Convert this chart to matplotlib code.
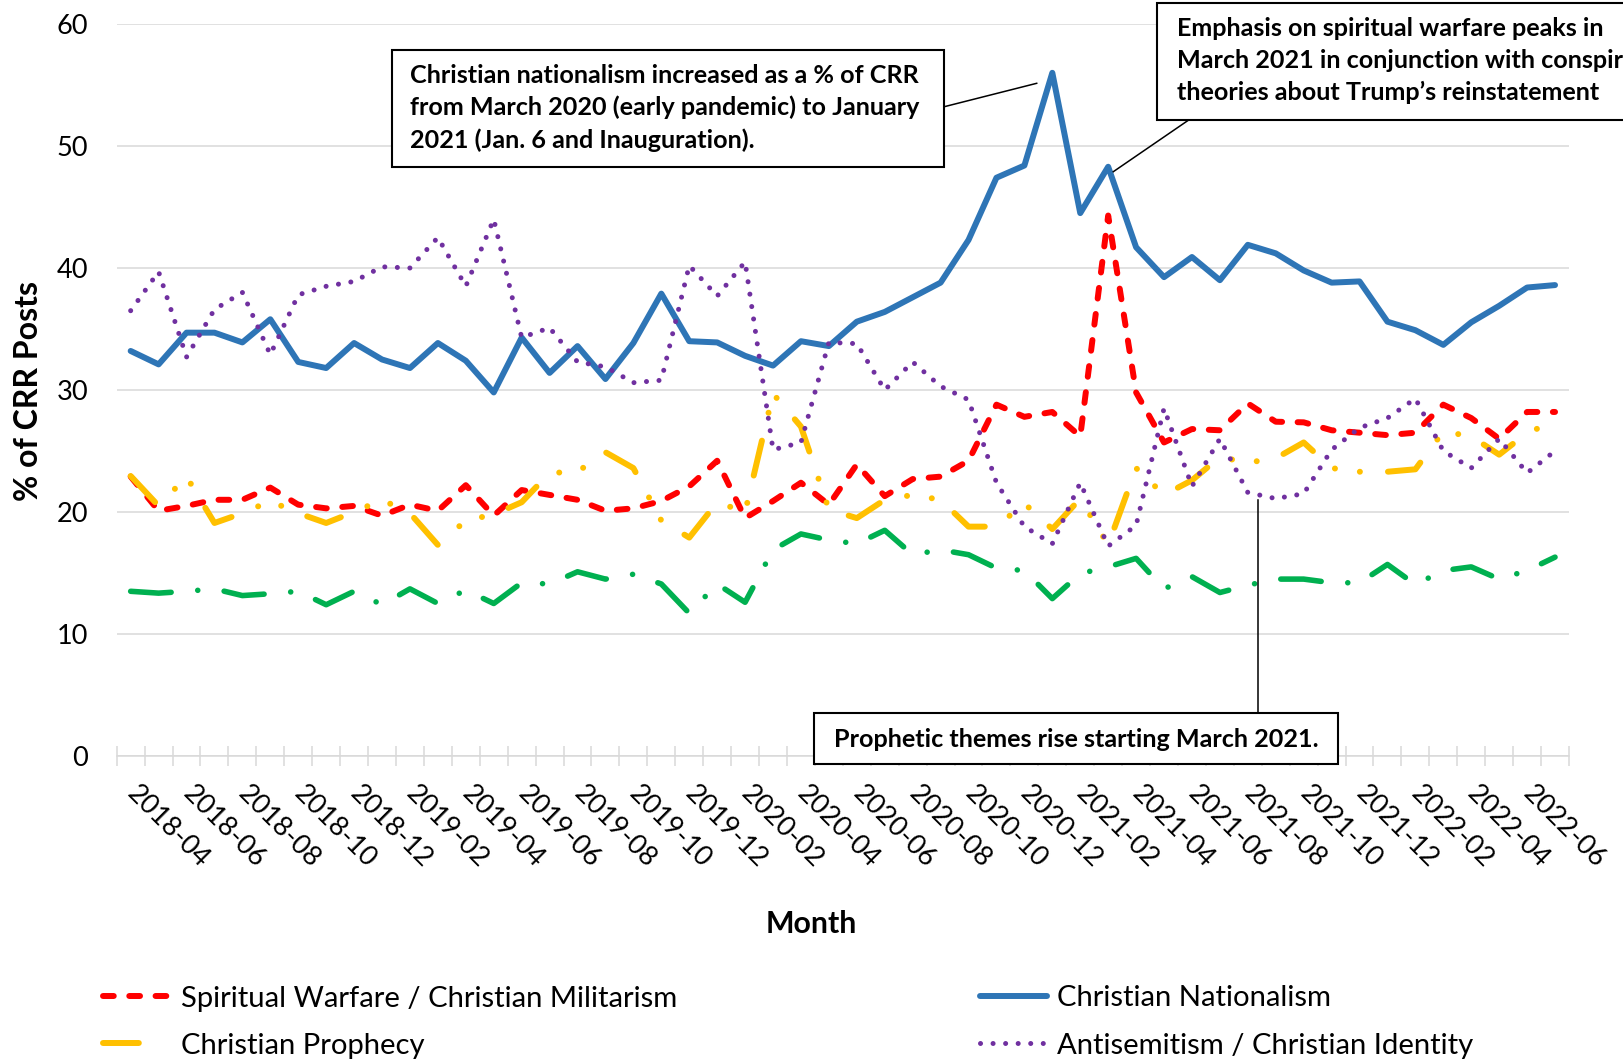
import matplotlib
matplotlib.use("Agg")
import matplotlib.pyplot as plt
import pandas as pd
from matplotlib.lines import Line2D
from matplotlib.patches import Rectangle

plt.rcParams["font.family"] = ["Lato", "DejaVu Sans"]

months = pd.period_range("2018-04", "2022-07", freq="M").strftime("%Y-%m").tolist()

warfare = [22.9, 20.1, 20.5, 21.0, 21.0, 22.0, 20.6, 20.3, 20.5, 19.7,
           20.6, 20.1, 22.2, 19.7, 21.8, 21.4, 21.0, 20.1, 20.3, 20.9,
           22.1, 24.2, 19.5, 20.9, 22.4, 20.6, 23.9, 21.3, 22.7, 22.9,
           24.2, 28.8, 27.8, 28.2, 26.2, 44.3, 29.8, 25.7, 26.8, 26.7,
           28.9, 27.4, 27.35, 26.7, 26.5, 26.3, 26.5, 28.8, 27.7, 26.0,
           28.2, 28.2]
nationalism = [33.2, 32.1, 34.7, 34.7, 33.9, 35.8, 32.3, 31.8, 33.85, 32.5,
               31.8, 33.85, 32.4, 29.8, 34.3, 31.4, 33.6, 30.9, 33.85, 37.9,
               34.0, 33.9, 32.8, 32.0, 34.0, 33.6, 35.6, 36.4, 37.6, 38.8,
               42.3, 47.4, 48.4, 56.0, 44.5, 48.3, 41.7, 39.25, 40.9, 39.0,
               41.9, 41.2, 39.8, 38.8, 38.9, 35.6, 34.9, 33.7, 35.55, 36.9,
               38.4, 38.6]
prophecy = [22.95, 20.5, 22.9, 19.1, 19.9, 20.9, 19.9, 19.1, 20.0, 21.0,
            19.9, 17.3, 19.3, 19.8, 20.8, 23.2, 23.3, 24.9, 23.6, 19.3,
            17.9, 20.8, 20.0, 29.7, 27.0, 20.2, 19.5, 21.0, 21.4, 21.0,
            18.8, 18.8, 20.7, 18.6, 21.1, 17.3, 23.6, 21.4, 22.6, 24.5,
            24.05, 24.4, 25.7, 23.6, 23.3, 23.3, 23.5, 26.6, 26.2, 24.7,
            26.5, 27.4]
antisemitism = [36.5, 39.7, 32.7, 36.6, 38.0, 32.9, 37.8, 38.5, 38.9, 40.1,
                40.0, 42.5, 38.5, 44.0, 34.3, 35.1, 32.3, 31.9, 30.6, 30.8,
                40.2, 37.7, 40.5, 25.1, 25.7, 33.9, 33.8, 30.0, 32.3, 30.3,
                29.2, 22.4, 18.8, 17.4, 22.4, 17.2, 18.9, 28.5, 22.1, 26.0,
                21.6, 21.1, 21.5, 25.1, 26.9, 27.7, 29.3, 25.0, 23.6, 26.0,
                23.2, 25.0]
green_theme = [13.5, 13.35, 13.5, 13.7, 13.15, 13.3, 13.5, 12.4, 13.5, 12.4,
               13.7, 12.5, 13.6, 12.5, 14.2, 14.1, 15.1, 14.5, 14.9, 14.1,
               11.7, 14.1, 12.6, 16.9, 18.2, 17.7, 17.4, 18.5, 16.5, 16.9,
               16.5, 15.4, 15.2, 12.9, 14.95, 15.5, 16.2, 13.7, 14.7, 13.4,
               14.0, 14.5, 14.5, 14.2, 14.2, 15.7, 14.05, 15.2, 15.5, 14.5,
               15.2, 16.3]

W, H = 1624, 1061


def fx(px):
    return px / W


def fy(py):
    return 1 - py / H


def main():
    fig = plt.figure(figsize=(W / 100, H / 100), dpi=100)
    ax = fig.add_axes([fx(116.7), fy(756), 1452.3 / W, 732 / H])
    x = list(range(len(months)))

    l_war, = ax.plot(x, warfare, color="#FF0000", lw=4.3,
                     linestyle=(0, (1.8, 2.6)), dash_capstyle="round",
                     solid_joinstyle="round")
    l_nat, = ax.plot(x, nationalism, color="#2E75B6", lw=4.3,
                     solid_capstyle="round", solid_joinstyle="round")
    ax.plot(x, prophecy, color="#FFC000", lw=4.3,
            linestyle=(0, (6, 4.8, 0.01, 4.2, 0.01, 4.7)),
            dash_capstyle="round")
    l_ant, = ax.plot(x, antisemitism, color="#7030A0", lw=3.6,
                     linestyle=(0, (0.01, 2.5)), dash_capstyle="round")
    ax.plot(x, green_theme, color="#00B050", lw=4.0,
            linestyle=(0, (7.3, 4.8, 0.01, 4.8)), dash_capstyle="round")
    # legend sample for the prophecy line only shows its first long dash
    l_pro = Line2D([], [], color="#FFC000", lw=4.3,
                   linestyle=(0, (6, 20)), dash_capstyle="round")

    ax.set_xlim(-0.5, len(months) - 0.5)
    ax.set_ylim(0, 60)
    ax.set_yticks(range(0, 61, 10))
    ax.grid(axis="y", color="#D9D9D9", lw=1.1)
    ax.set_axisbelow(True)
    for side in ["top", "right", "left"]:
        ax.spines[side].set_visible(False)
    ax.spines["bottom"].set_color("#D9D9D9")
    ax.spines["bottom"].set_linewidth(1.1)

    # labels sit a little right of the category centre, like Excel does
    ax.set_xticks([i + 0.32 for i in x[::2]])
    ax.set_xticklabels(months[::2])
    ax.set_xticks([i - 0.5 for i in range(len(months) + 1)], minor=True)
    ax.tick_params(axis="x", which="major", length=0, pad=18, labelsize=19.5)
    ax.tick_params(axis="x", which="minor", direction="inout", length=14.4,
                   width=1.1, color="#D9D9D9")
    ax.tick_params(axis="y", length=0, pad=20.5, labelsize=19.5)
    plt.setp(ax.get_xticklabels(), rotation=-45, ha="left", va="top",
             rotation_mode="anchor")

    fig.text(fx(29), fy(391.5), "% of CRR Posts", rotation=90, ha="center",
             va="center", fontsize=23, fontweight="bold")
    fig.text(fx(811), fy(924), "Month", ha="center", va="center",
             fontsize=21.8, fontweight="bold")

    legend_kw = dict(loc="upper left", frameon=False, fontsize=21.1,
                     handlelength=2.3, handletextpad=0.34, labelspacing=0.72,
                     borderpad=0, borderaxespad=0)
    fig.legend([l_war, l_pro], ["Spiritual Warfare / Christian Militarism",
                                "Christian Prophecy"],
               bbox_to_anchor=(fx(103.5), fy(985.5)), **legend_kw)
    fig.legend([l_nat, l_ant], ["Christian Nationalism",
                                "Antisemitism / Christian Identity"],
               bbox_to_anchor=(fx(980), fy(985.5)), **legend_kw)

    # callout boxes
    boxes = [(391.7, 50, 944.3, 167.3), (1157.3, 3.3, 1750, 120),
             (814, 713.3, 1338.3, 764.3)]
    for x0, y0, x1, y1 in boxes:
        fig.add_artist(Rectangle((fx(x0), fy(y1)), (x1 - x0) / W, (y1 - y0) / H,
                                 transform=fig.transFigure, facecolor="white",
                                 edgecolor="black", lw=1.5))
    leaders = [((944.3, 106.7), (1036.7, 83.3)),
               ((1188.7, 120), (1113.3, 171.7)),
               ((1257.7, 713.3), (1257.7, 500))]
    for (xa, ya), (xb, yb) in leaders:
        fig.add_artist(Line2D([fx(xa), fx(xb)], [fy(ya), fy(yb)],
                              transform=fig.transFigure, color="black", lw=1.1))

    note1 = ["Christian nationalism increased as a % of CRR",
             "from March 2020 (early pandemic) to January",
             "2021 (Jan. 6 and Inauguration)."]
    for line, yy in zip(note1, [75.6, 107.7, 139.8]):
        fig.text(fx(410), fy(yy), line, ha="left", va="center",
                 fontsize=18.1, fontweight="bold")
    note2 = ["Emphasis on spiritual warfare peaks in",
             "March 2021 in conjunction with conspiracy",
             "theories about Trump\u2019s reinstatement"]
    for line, yy in zip(note2, [28, 60, 92]):
        fig.text(fx(1176.6), fy(yy), line, ha="left", va="center",
                 fontsize=18.1, fontweight="bold")
    fig.text(fx(1076), fy(739.5), "Prophetic themes rise starting March 2021.",
             ha="center", va="center", fontsize=18.1, fontweight="bold")

    fig.savefig("out.png", dpi=100)


if __name__ == "__main__":
    main()
